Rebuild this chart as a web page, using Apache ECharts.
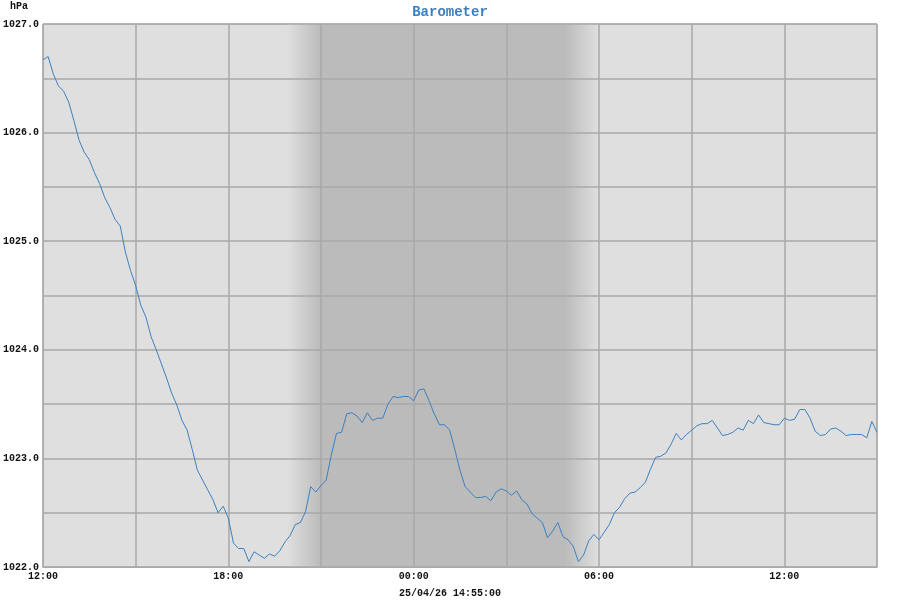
<!DOCTYPE html>
<html>
<head>
<meta charset="utf-8">
<title>Barometer</title>
<script src="https://cdn.jsdelivr.net/npm/echarts@6/dist/echarts.min.js"></script>
<style>
  html, body { margin: 0; padding: 0; background: #fff; }
  #chart { width: 900px; height: 600px; }
</style>
</head>
<body>
<div id="chart"></div>
<script>
// start of the window is 12:00, one reading every 10 minutes
const startHour = 12
const stepMinutes = 10
const pressure = [
  1026.67, 1026.70, 1026.54, 1026.43, 1026.38, 1026.28, 1026.11, 1025.93, 1025.82, 1025.75,
  1025.63, 1025.53, 1025.40, 1025.31, 1025.20, 1025.14, 1024.90, 1024.73, 1024.59, 1024.41,
  1024.30, 1024.12, 1024.00, 1023.87, 1023.74, 1023.60, 1023.49, 1023.35, 1023.26, 1023.08,
  1022.89, 1022.80, 1022.71, 1022.62, 1022.50, 1022.56, 1022.45, 1022.22, 1022.17, 1022.17,
  1022.05, 1022.14, 1022.11, 1022.08, 1022.12, 1022.10, 1022.15, 1022.23, 1022.29, 1022.39,
  1022.41, 1022.51, 1022.74, 1022.69, 1022.75, 1022.80, 1023.03, 1023.23, 1023.24, 1023.41,
  1023.42, 1023.39, 1023.33, 1023.42, 1023.35, 1023.37, 1023.37, 1023.50, 1023.57, 1023.56,
  1023.57, 1023.57, 1023.53, 1023.63, 1023.64, 1023.53, 1023.41, 1023.31, 1023.31, 1023.26,
  1023.08, 1022.89, 1022.74, 1022.69, 1022.64, 1022.64, 1022.65, 1022.61, 1022.69, 1022.72,
  1022.70, 1022.66, 1022.70, 1022.62, 1022.58, 1022.49, 1022.45, 1022.41, 1022.27, 1022.33,
  1022.41, 1022.28, 1022.25, 1022.19, 1022.05, 1022.11, 1022.24, 1022.30, 1022.25, 1022.32,
  1022.39, 1022.50, 1022.55, 1022.63, 1022.68, 1022.69, 1022.73, 1022.78, 1022.90, 1023.01,
  1023.02, 1023.05, 1023.13, 1023.23, 1023.17, 1023.22, 1023.26, 1023.30, 1023.32, 1023.32,
  1023.35, 1023.28, 1023.21, 1023.22, 1023.24, 1023.28, 1023.26, 1023.35, 1023.32, 1023.40,
  1023.33, 1023.32, 1023.31, 1023.31, 1023.37, 1023.35, 1023.36, 1023.45, 1023.45, 1023.37,
  1023.25, 1023.21, 1023.22, 1023.27, 1023.28, 1023.25, 1023.21, 1023.22, 1023.22, 1023.22,
  1023.19, 1023.34, 1023.24
]
// night shading, hours after start: [dusk begins, dark, dawn begins, day]
const night = [7.9, 9, 16.9, 18]
const stamp = '25/04/26 14:55:00'

const dayColor = '#dfdfdf'
const nightColor = '#bbbbbb'
const font = 'Liberation Mono, DejaVu Sans Mono, monospace'

const seriesData = pressure.map((v, i) => [i * stepMinutes / 60, v])

const grad = (from, to) => new echarts.graphic.LinearGradient(0, 0, 1, 0, [
  {offset: 0, color: from}, {offset: 1, color: to}
])

const gridLine = {show: true, lineStyle: {color: '#a8a8a8', width: 1.5}}

const myChart = echarts.init(document.getElementById('chart'))
const option = {
  animation: false,
  backgroundColor: '#fff',
  title: {
    text: 'Barometer',
    left: 'center',
    top: 0,
    textStyle: {fontFamily: font, fontSize: 14, fontWeight: 'bold', color: '#3d80c0'}
  },
  graphic: [
    {type: 'text', left: 10, top: 1, style: {text: 'hPa', font: 'bold 10px ' + font, fill: '#111'}},
    {type: 'text', left: 'center', top: 588, style: {text: stamp, font: 'bold 10px ' + font, fill: '#111'}}
  ],
  grid: {left: 43, right: 23, top: 24, bottom: 33, show: true, backgroundColor: dayColor, borderColor: '#aaa', borderWidth: 1},
  xAxis: {
    type: 'value',
    min: 0,
    max: 27,
    interval: 3,
    z: 2,
    axisLine: {show: true, lineStyle: {color: '#aaa'}},
    axisTick: {show: false},
    splitLine: gridLine,
    axisLabel: {
      margin: 4,
      fontFamily: font, fontSize: 10, fontWeight: 'bold', color: '#111',
      formatter: v => v % 6 === 0 ? String((startHour + v) % 24).padStart(2, '0') + ':00' : ''
    }
  },
  yAxis: {
    type: 'value',
    min: 1022,
    max: 1027,
    interval: 0.5,
    z: 2,
    axisLine: {show: true, lineStyle: {color: '#aaa'}},
    axisTick: {show: false},
    splitLine: gridLine,
    axisLabel: {
      margin: 4,
      fontFamily: font, fontSize: 10, fontWeight: 'bold', color: '#111',
      formatter: v => Number.isInteger(v) ? v.toFixed(1) : ''
    }
  },
  series: [
    {
      // night shading only, sits under the grid lines
      type: 'line',
      data: [],
      z: 1,
      silent: true,
      markArea: {
        silent: true,
        data: [
          [{xAxis: night[0], itemStyle: {color: grad(dayColor, nightColor)}}, {xAxis: night[1]}],
          [{xAxis: night[1], itemStyle: {color: nightColor}}, {xAxis: night[2]}],
          [{xAxis: night[2], itemStyle: {color: grad(nightColor, dayColor)}}, {xAxis: night[3]}]
        ]
      }
    },
    {
      type: 'line',
      data: seriesData,
      showSymbol: false,
      lineStyle: {color: '#3d80c0', width: 1},
      z: 3
    }
  ]
}
myChart.setOption(option)
</script>
</body>
</html>
